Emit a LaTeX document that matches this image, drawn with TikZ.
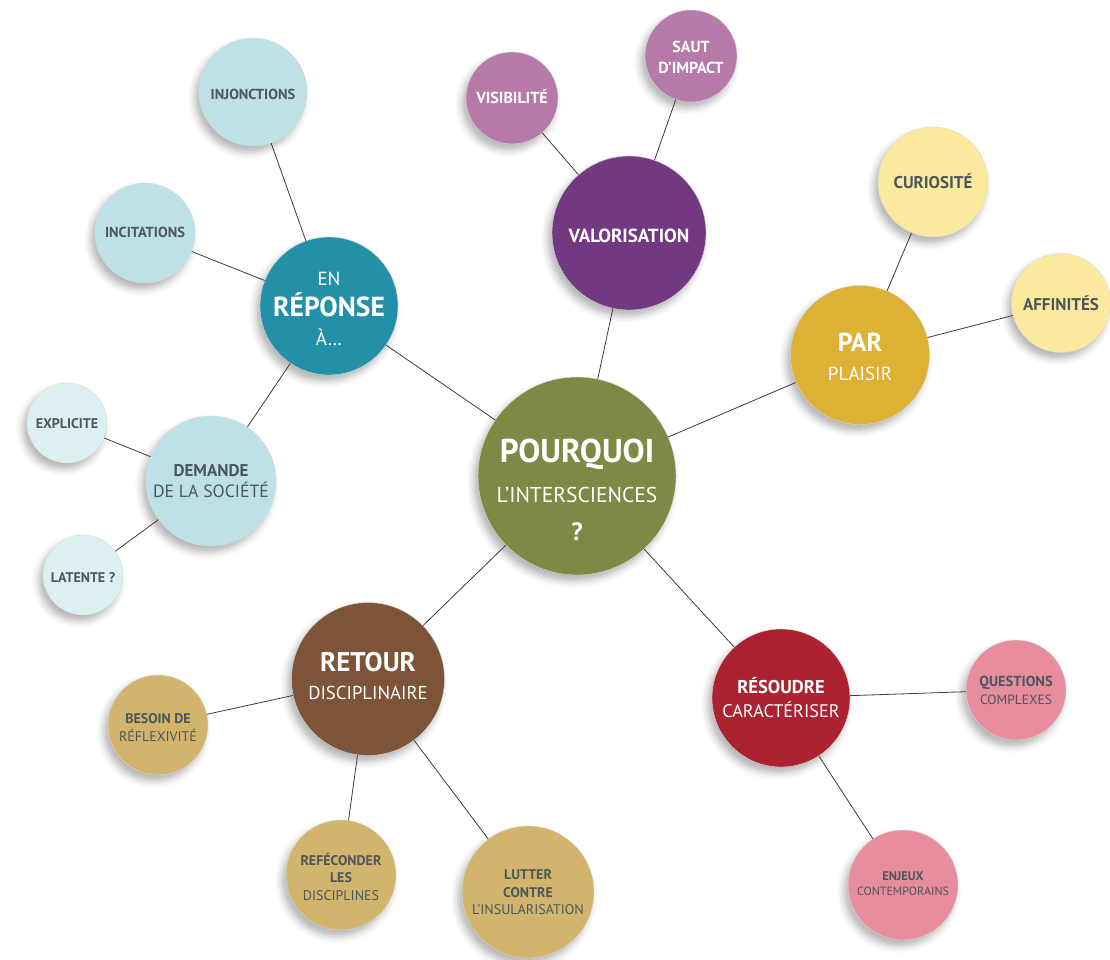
\documentclass[tikz,border=0pt]{standalone}
\usepackage{fontspec}
\setmainfont{PT Sans}
\usetikzlibrary{shadows.blur}
\definecolor{olive}{HTML}{7F8945}
\definecolor{purp}{HTML}{723880}
\definecolor{lilac}{HTML}{B57AA8}
\definecolor{gold}{HTML}{DCB134}
\definecolor{paleyel}{HTML}{FBE99E}
\definecolor{teal}{HTML}{2490A7}
\definecolor{lblue}{HTML}{BDE1E7}
\definecolor{pblue}{HTML}{DCEFF1}
\definecolor{brown}{HTML}{7D5437}
\definecolor{tan}{HTML}{D3B46C}
\definecolor{crimson}{HTML}{AB2230}
\definecolor{pink}{HTML}{E88D9D}
\definecolor{tgray}{HTML}{4B575B}
\definecolor{linecol}{HTML}{3C3C3C}
\tikzset{
  bub/.style={circle, inner sep=0pt, draw=black!15, line width=0.4pt,
    blur shadow={shadow xshift=-4pt, shadow yshift=-6pt, shadow blur radius=7pt, shadow opacity=30}},
  conn/.style={draw=linecol, line width=0.8pt},
  lbl/.style={anchor=base, inner sep=0pt},
  wt/.style={text=white},
  dk/.style={text=tgray},
}
\newcommand\fs[1]{\fontsize{#1}{#1}\selectfont}
\begin{document}
\begin{tikzpicture}[x=1pt,y=-1pt]
\useasboundingbox (0,0) rectangle (1110,959);
% circles
\node[bub, fill=olive, minimum size=198pt] (pq) at (577,476) {};
\node[bub, fill=purp, minimum size=154pt] (val) at (629,233) {};
\node[bub, fill=lilac, minimum size=92pt] (vis) at (512,98) {};
\node[bub, fill=lilac, minimum size=92pt] (saut) at (691,56) {};
\node[bub, fill=gold, minimum size=139pt] (par) at (860,355) {};
\node[bub, fill=paleyel, minimum size=110pt] (cur) at (933,182) {};
\node[bub, fill=paleyel, minimum size=99pt] (aff) at (1061,303) {};
\node[bub, fill=teal, minimum size=138pt] (rep) at (329,306) {};
\node[bub, fill=lblue, minimum size=108pt] (inj) at (253,92) {};
\node[bub, fill=lblue, minimum size=100pt] (inc) at (145,233) {};
\node[bub, fill=lblue, minimum size=130pt] (dem) at (211,481) {};
\node[bub, fill=pblue, minimum size=80pt] (exp) at (67,423) {};
\node[bub, fill=pblue, minimum size=80pt] (lat) at (83,575) {};
\node[bub, fill=brown, minimum size=153pt] (ret) at (368,679) {};
\node[bub, fill=tan, minimum size=100pt] (bes) at (158,725) {};
\node[bub, fill=tan, minimum size=110pt] (ref) at (341,875) {};
\node[bub, fill=tan, minimum size=132pt] (lut) at (528,892) {};
\node[bub, fill=crimson, minimum size=138pt] (res) at (781,698) {};
\node[bub, fill=pink, minimum size=100pt] (que) at (1016,690) {};
\node[bub, fill=pink, minimum size=110pt] (enj) at (903,885) {};
% connectors
\draw[conn] (pq) -- (val);
\draw[conn] (pq) -- (par);
\draw[conn] (pq) -- (rep);
\draw[conn] (pq) -- (ret);
\draw[conn] (pq) -- (res);
\draw[conn] (val) -- (vis);
\draw[conn] (val) -- (saut);
\draw[conn] (par) -- (cur);
\draw[conn] (par) -- (aff);
\draw[conn] (rep) -- (inj);
\draw[conn] (rep) -- (inc);
\draw[conn] (rep) -- (dem);
\draw[conn] (dem) -- (exp);
\draw[conn] (dem) -- (lat);
\draw[conn] (ret) -- (bes);
\draw[conn] (ret) -- (ref);
\draw[conn] (ret) -- (lut);
\draw[conn] (res) -- (que);
\draw[conn] (res) -- (enj);
% labels
\node[lbl, wt, font=\fs{33}\bfseries] (pq1) at (577,462) {POURQUOI};
\node[lbl, wt, font=\fs{21.5}] (pq2) at (577,502) {L’INTERSCIENCES};
\node[lbl, wt, font=\fs{25}\bfseries] (pq3) at (577,540) {?};
\node[lbl, wt, font=\fs{19}\bfseries] (val1) at (629,242) {VALORISATION};
\node[lbl, wt, font=\fs{16}\bfseries] (vis1) at (512,103) {VISIBILITÉ};
\node[lbl, wt, font=\fs{16}\bfseries] (saut1) at (691,52) {SAUT};
\node[lbl, wt, font=\fs{16}\bfseries] (saut2) at (691,73) {D’IMPACT};
\node[lbl, wt, font=\fs{26}\bfseries] (par1) at (860,351) {PAR};
\node[lbl, wt, font=\fs{19}] (par2) at (860,380) {PLAISIR};
\node[lbl, dk, font=\fs{17}\bfseries] (cur1) at (933,188) {CURIOSITÉ};
\node[lbl, dk, font=\fs{17}\bfseries] (aff1) at (1061,310) {AFFINITÉS};
\node[lbl, wt, font=\fs{19}] (rep1) at (329,285) {EN};
\node[lbl, wt, font=\fs{27.5}\bfseries] (rep2) at (329,316) {RÉPONSE};
\node[lbl, wt, font=\fs{19}] (rep3) at (329,345) {À…};
\node[lbl, dk, font=\fs{14.5}\bfseries] (inj1) at (253,99) {INJONCTIONS};
\node[lbl, dk, font=\fs{14.5}\bfseries] (inc1) at (145,237) {INCITATIONS};
\node[lbl, dk, font=\fs{17}\bfseries] (dem1) at (211,476) {DEMANDE};
\node[lbl, dk, font=\fs{17.7}] (dem2) at (211,497) {DE LA SOCIÉTÉ};
\node[lbl, dk, font=\fs{14}\bfseries] (exp1) at (67,428) {EXPLICITE};
\node[lbl, dk, font=\fs{14}\bfseries] (lat1) at (83,582) {LATENTE ?};
\node[lbl, wt, font=\fs{27}\bfseries] (ret1) at (368,671) {RETOUR};
\node[lbl, wt, font=\fs{18.7}] (ret2) at (368,699) {DISCIPLINAIRE};
\node[lbl, dk, font=\fs{14}\bfseries] (bes1) at (158,723) {BESOIN DE};
\node[lbl, dk, font=\fs{14}] (bes2) at (158,741) {RÉFLEXIVITÉ};
\node[lbl, dk, font=\fs{14}\bfseries] (ref1) at (341,865) {REFÉCONDER};
\node[lbl, dk, font=\fs{14}\bfseries] (ref2) at (341,882) {LES};
\node[lbl, dk, font=\fs{14}] (ref3) at (341,900) {DISCIPLINES};
\node[lbl, dk, font=\fs{14}\bfseries] (lut1) at (528,879) {LUTTER};
\node[lbl, dk, font=\fs{14}\bfseries] (lut2) at (528,897) {CONTRE};
\node[lbl, dk, font=\fs{14}] (lut3) at (528,914) {L’INSULARISATION};
\node[lbl, wt, font=\fs{18.5}\bfseries] (res1) at (781,693) {RÉSOUDRE};
\node[lbl, wt, font=\fs{18.2}] (res2) at (781,717) {CARACTÉRISER};
\node[lbl, dk, font=\fs{14.5}\bfseries] (que1) at (1016,686) {QUESTIONS};
\node[lbl, dk, font=\fs{13.5}] (que2) at (1016,704) {COMPLEXES};
\node[lbl, dk, font=\fs{12.5}\bfseries] (enj1) at (903,880) {ENJEUX};
\node[lbl, dk, font=\fs{12}] (enj2) at (903,895) {CONTEMPORAINS};
\end{tikzpicture}
\end{document}
